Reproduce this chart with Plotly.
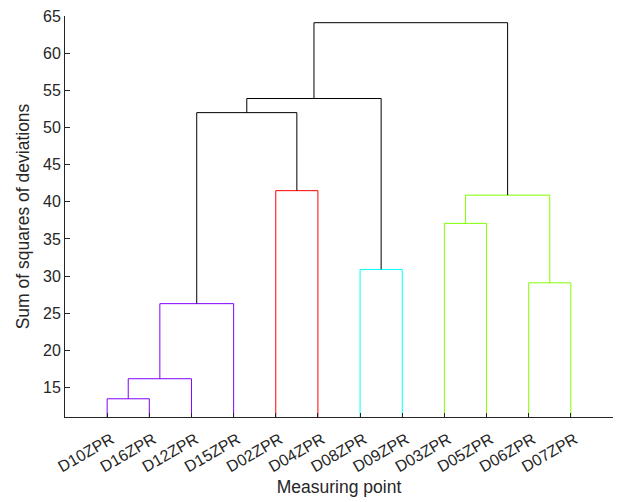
import plotly.graph_objects as go

# Leaves in display order
leaf_labels = ["D10ZPR", "D16ZPR", "D12ZPR", "D15ZPR", "D02ZPR", "D04ZPR",
               "D08ZPR", "D09ZPR", "D03ZPR", "D05ZPR", "D06ZPR", "D07ZPR"]

# Linkage: node ids 0..11 are leaves, new clusters get ids 12, 13, ...
merge_left = [0, 12, 13, 4, 6, 8, 10, 17, 14, 20, 21]
merge_right = [1, 2, 3, 5, 7, 9, 11, 18, 15, 16, 19]
merge_height = [13.5, 16.2, 26.3, 41.5, 30.9, 37.1, 29.1, 40.9, 52.0, 53.9, 64.1]
merge_color = ["#8000FF", "#8000FF", "#8000FF", "#FF0000", "#00FFFF", "#80FF00",
               "#80FF00", "#80FF00", "#000000", "#000000", "#000000"]

y_ticks = [15, 20, 25, 30, 35, 40, 45, 50, 55, 60, 65]

n = len(leaf_labels)
node_x = {i: i + 1 for i in range(n)}
node_h = {i: 0.0 for i in range(n)}

fig = go.Figure()
for k, (a, b, h, c) in enumerate(zip(merge_left, merge_right, merge_height, merge_color)):
    xa, xb = node_x[a], node_x[b]
    fig.add_trace(go.Scatter(
        x=[xa, xa, xb, xb],
        y=[node_h[a], h, h, node_h[b]],
        mode="lines",
        line=dict(color=c, width=1),
        hoverinfo="skip",
        showlegend=False,
    ))
    nid = n + k
    node_x[nid] = (xa + xb) / 2
    node_h[nid] = h

font_family = "Liberation Sans, Arial, sans-serif"
axis_color = "#262626"

fig.update_layout(
    width=619, height=502,
    margin=dict(l=64.5, r=6, t=16, b=85),
    paper_bgcolor="white", plot_bgcolor="white",
    font=dict(family=font_family, size=16, color=axis_color),
    xaxis=dict(
        range=[0, n + 1],
        tickmode="array",
        tickvals=list(range(1, n + 1)),
        ticktext=leaf_labels,
        tickangle=-30,
        ticklabelstandoff=6, ticklabelshift=4,
        ticks="inside", ticklen=4, tickcolor=axis_color,
        showline=True, linecolor=axis_color, linewidth=1,
        showgrid=False, zeroline=False,
        title=dict(text="Measuring point", font=dict(size=17.5), standoff=6),
    ),
    yaxis=dict(
        range=[11.05, 65],
        tickmode="array",
        tickvals=y_ticks,
        ticks="inside", ticklen=5, tickcolor=axis_color,
        showline=True, linecolor=axis_color, linewidth=1,
        showgrid=False, zeroline=False,
        title=dict(text="Sum of squares of deviations", font=dict(size=17.5), standoff=8),
    ),
)

fig.write_html("out.html")
